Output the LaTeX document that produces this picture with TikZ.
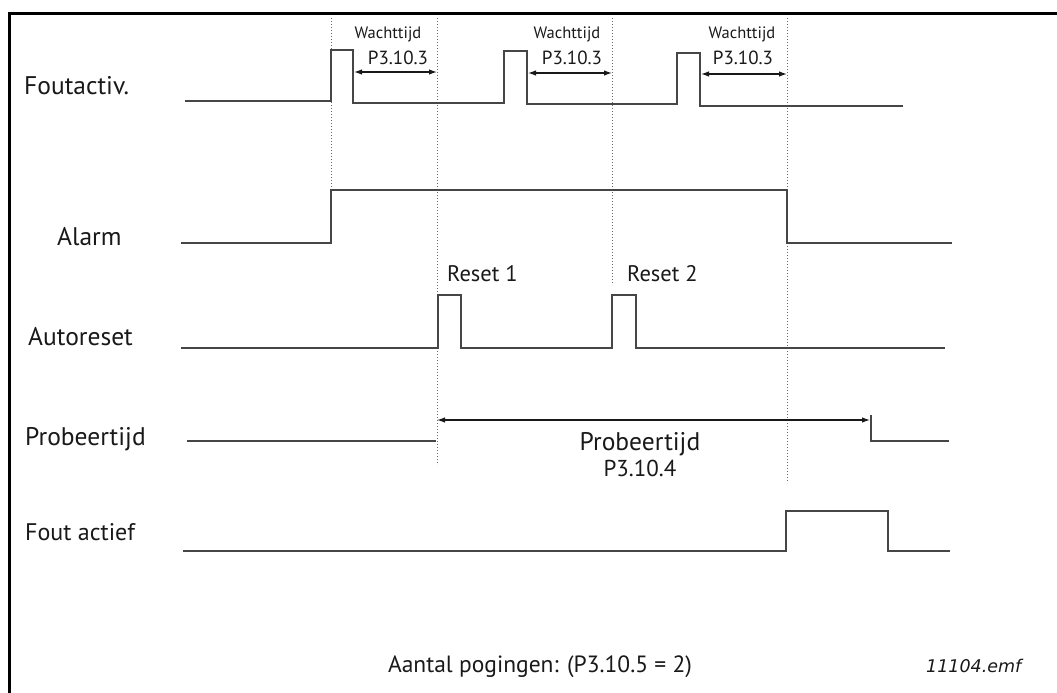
\documentclass[tikz,border=0pt]{standalone}
\usepackage{fontspec}
\setmainfont{PT Sans}
\newfontfamily\emffont{DejaVu Sans}
\usetikzlibrary{arrows.meta, positioning, calc}
\definecolor{sigline}{RGB}{70,70,70}
\definecolor{guide}{RGB}{105,105,105}
\definecolor{txtdark}{RGB}{25,25,25}
\tikzset{
  signal/.style={draw=sigline, line width=1.5pt},
  guideline/.style={draw=guide, line width=1pt, dash pattern=on 1.3pt off 1.7pt},
  dimarrow/.style={{Latex[length=8pt,width=5.5pt]}-{Latex[length=8pt,width=5.5pt]},
    draw=txtdark, line width=1.2pt},
  rowlabel/.style={anchor=base west, inner sep=0pt, text=txtdark,
    font=\fontsize{25.5}{28}\selectfont},
  smalllabel/.style={anchor=base, inner sep=0pt, text=txtdark,
    font=\fontsize{16.5}{18}\selectfont},
  parlabel/.style={anchor=base, inner sep=0pt, text=txtdark,
    font=\fontsize{19}{21}\selectfont}
}

\begin{document}
\begin{tikzpicture}[x=1pt, y=-1pt]
  \useasboundingbox (0,0) rectangle (1057,693);

  % Frame (left and top edge)
  \draw[line width=3pt, color=black] (9.5,693) -- (9.5,13.5) -- (1057,13.5);

  % Time marks
  \coordinate (t1) at (331,18);
  \coordinate (t2) at (437,18);
  \coordinate (t3) at (612,18);
  \coordinate (t4) at (787,18);

  % Dotted guide lines
  \draw[guideline] (t1) -- ++(0,172);
  \draw[guideline] (t2) -- ++(0,447);
  \draw[guideline] (t3) -- ++(0,267);
  \draw[guideline] (t4) -- ++(0,465);

  % Row labels
  \node[rowlabel] (lfout) at (24,94) {Foutactiv.};
  \node[rowlabel] (lalarm) at (57,245) {Alarm};
  \node[rowlabel] (lauto) at (28,345) {Autoreset};
  \node[rowlabel] (lprob) at (25,445) {Probeertijd};
  \node[rowlabel, font=\fontsize{24}{26}\selectfont] (lfact) at (25,540) {Fout actief};

  % Foutactiv. signal
  \draw[signal] (185,101) -- (331,101) -- (331,50) -- (353,50) -- (353,103)
    -- (504,103) -- (504,51) -- (527,51) -- (527,104)
    -- (677,104) -- (677,53) -- (700,53) -- (700,106) -- (903,106);

  % Alarm signal
  \draw[signal] (181,243) -- (331,243) -- (331,190) -- (787,190) -- (787,243) -- (952,243);

  % Autoreset signal
  \draw[signal] (181,348) -- (438,348) -- (438,295) -- (461,295) -- (461,348)
    -- (612,348) -- (612,295) -- (636,295) -- (636,348) -- (945,348);

  % Probeertijd signal
  \draw[signal] (187,441) -- (436,441);
  \draw[signal] (871,415) -- (871,441) -- (949,441);

  % Fout actief signal
  \draw[signal] (183,551) -- (786,551) -- (786,511) -- (888,511) -- (888,551) -- (950,551);

  % Wachttijd intervals
  \coordinate (w1a) at (354,72);  \coordinate (w1b) at (437,72);
  \coordinate (w2a) at (528,73);  \coordinate (w2b) at (612,73);
  \coordinate (w3a) at (701,74);  \coordinate (w3b) at (787,74);
  \draw[dimarrow] (w1a) -- (w1b);
  \draw[dimarrow] (w2a) -- (w2b);
  \draw[dimarrow] (w3a) -- (w3b);
  \node[smalllabel] (wt1) at (388,39) {Wachttijd};
  \node[smalllabel] (wt2) at (567,39) {Wachttijd};
  \node[smalllabel] (wt3) at (742,39) {Wachttijd};
  \node[parlabel] (wp1) at (398,65) {P3.10.3};
  \node[parlabel] (wp2) at (572,65) {P3.10.3};
  \node[parlabel] (wp3) at (743,65) {P3.10.3};

  % Reset labels
  \node[rowlabel, font=\fontsize{22.5}{24}\selectfont] (rs1) at (447,281) {Reset 1};
  \node[rowlabel, font=\fontsize{22.5}{24}\selectfont] (rs2) at (627,281) {Reset 2};

  % Probeertijd interval
  \coordinate (pa) at (437,420);
  \coordinate (pb) at (870,420);
  \draw[dimarrow] (pa) -- (pb);
  \node[rowlabel, anchor=base] (ptxt) at (640,450) {Probeertijd};
  \node[parlabel, font=\fontsize{23}{25}\selectfont] (ppar) at (640,476) {P3.10.4};

  % Footer
  \node[rowlabel, anchor=base, font=\fontsize{23.5}{26}\selectfont] (count) at (540,672) {Aantal pogingen: (P3.10.5 = 2)};
  \node[anchor=base west, inner sep=0pt, text=txtdark, font=\emffont\itshape\fontsize{17.5}{19}\selectfont] (emf) at (926,672) {11104.emf};
\end{tikzpicture}
\end{document}
